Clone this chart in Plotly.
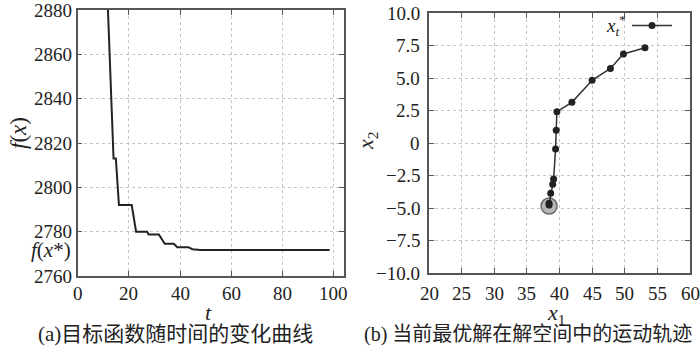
import plotly.graph_objects as go

# ---- data (a) objective value vs iteration (polyline vertices)
t_vals = [11.0, 12.0, 13.0, 14.0, 14.9, 16.1, 21.1, 22.8, 27.1, 27.7, 31.7, 33.2, 34.0,
          37.5, 38.9, 43.2, 44.8, 48.0, 98.4]
f_vals = [2905, 2874, 2845, 2813, 2813, 2792, 2792, 2780, 2780, 2778.7, 2778.7, 2775.6,
          2774.5, 2774.5, 2773.0, 2773.0, 2772.1, 2771.7, 2771.7]
f_best = 2771.7

# ---- data (b) trajectory of best solution
x1_vals = [53.1, 49.8, 47.8, 45.0, 41.9, 39.6, 39.5, 39.4, 39.1, 38.96, 38.65, 38.4, 38.4]
x2_vals = [7.33, 6.85, 5.74, 4.82, 3.13, 2.41, 0.98, -0.46, -2.77, -3.18, -3.87, -4.64, -4.77]
final_pt = ([38.4], [-4.85])

y1_ticks = [2760, 2780, 2800, 2820, 2840, 2860, 2880]
y1_ticktext = ["2760", "2780", "2800", "2820", "2840", "2860", "2880"]
x1_ticks = [0, 20, 40, 60, 80, 100]
x1_ticktext = ["0", "20", "40", "60", "80", "100"]
x2_ticks = [20, 25, 30, 35, 40, 45, 50, 55, 60]
x2_ticktext = ["20", "25", "30", "35", "40", "45", "50", "55", "60"]
y2_ticks = [10, 7.5, 5, 2.5, 0, -2.5, -5, -7.5, -10]
y2_ticktext = ["10.0", "7.5", "5.0", "2.5", "0", "\u22122.5", "\u22125.0", "\u22127.5", "\u221210.0"]

SERIF = "Liberation Serif, Times New Roman, serif"
CAPF = "Liberation Serif, Noto Sans CJK SC"
TICKSIZE = 19
W, H = 700, 352

fig = go.Figure()
fig.add_trace(go.Scatter(x=t_vals, y=f_vals, mode="lines",
                         line=dict(color="#222", width=2), xaxis="x", yaxis="y",
                         showlegend=False, cliponaxis=True))
fig.add_trace(go.Scatter(x=final_pt[0], y=final_pt[1], mode="markers",
                         marker=dict(size=16, color="rgba(160,160,160,0.75)",
                                     line=dict(color="#666", width=1.5)),
                         xaxis="x2", yaxis="y2", showlegend=False))
fig.add_trace(go.Scatter(x=x1_vals, y=x2_vals, mode="lines+markers",
                         line=dict(color="#333", width=1.5),
                         marker=dict(size=7, color="#222"),
                         xaxis="x2", yaxis="y2", showlegend=False))

axis_common = dict(showline=True, linecolor="#555", linewidth=1.5, mirror="ticks",
                   ticks="inside", ticklen=5, tickcolor="#555", tickwidth=1.2,
                   showgrid=True, gridcolor="#c4c4c4", griddash="dot", gridwidth=1,
                   zeroline=False, showticklabels=False, automargin=False)

def px_x(p):
    return p / W

def px_y(p):
    return 1 - p / H

fig.update_layout(
    width=W, height=H, margin=dict(l=0, r=0, t=0, b=0, autoexpand=False),
    paper_bgcolor="white", plot_bgcolor="white", showlegend=False,
    font=dict(family=SERIF, color="#222"),
    xaxis=dict(domain=[px_x(77.7), px_x(344)], range=[0, 104], tickvals=x1_ticks,
               anchor="y", **axis_common),
    yaxis=dict(domain=[px_y(276), px_y(10)], range=[2760, 2880],
               tickvals=y1_ticks, anchor="x", **axis_common),
    xaxis2=dict(domain=[px_x(429), px_x(690)], range=[20, 60],
                tickvals=x2_ticks, anchor="y2", **axis_common),
    yaxis2=dict(domain=[px_y(273), px_y(13)], range=[-10, 10], tickvals=y2_ticks,
                anchor="x2", **axis_common),
)

def A(text, x, y, size=22, family=SERIF, **kw):
    d = dict(text=text, x=px_x(x), y=px_y(y), xref="paper", yref="paper",
             xanchor="center", yanchor="middle", showarrow=False,
             font=dict(family=family, size=size, color="#222"))
    d.update(kw)
    return d

ann = [
    A("<i>f</i>(<i>x</i>)", 18, 133, size=23, textangle=-90),
    A("<i>t</i>", 208, 312),
    A("<i>x</i><sub>2</sub>", 367, 141, textangle=-90),
    A("<i>x</i><sub>1</sub>", 556, 314),
    A("(a)目标函数随时间的变化曲线", 175, 334, size=21, family=CAPF),
    A("(b) 当前最优解在解空间中的运动轨迹", 528, 334, size=20, family=CAPF),
    A("<i>x</i><sub><i>t</i></sub><sup>*</sup>", 616, 26, size=19),
    dict(text="<i>f</i>(<i>x</i>*)", x=px_x(73), y=f_best, xref="paper", yref="y",
         xanchor="right", yanchor="middle", showarrow=False,
         font=dict(family=SERIF, size=21, color="#222")),
]

tickfont = dict(family=SERIF, size=TICKSIZE, color="#222")
# tick labels placed through the axes' own scales
for v, s in zip(y1_ticks, y1_ticktext):
    ann.append(dict(text=s, x=px_x(74), y=v, xref="paper", yref="y", xanchor="right",
                    yanchor="middle", showarrow=False, font=tickfont))
for v, s in zip(x1_ticks, x1_ticktext):
    ann.append(dict(text=s, x=v, y=px_y(293), xref="x", yref="paper", xanchor="center",
                    yanchor="middle", showarrow=False, font=tickfont))
for v, s in zip(y2_ticks, y2_ticktext):
    ann.append(dict(text=s, x=px_x(422), y=v, xref="paper", yref="y2", xanchor="right",
                    yanchor="middle", showarrow=False, font=tickfont))
for v, s in zip(x2_ticks, x2_ticktext):
    ann.append(dict(text=s, x=v, y=px_y(293), xref="x2", yref="paper", xanchor="center",
                    yanchor="middle", showarrow=False, font=tickfont))
fig.update_layout(annotations=ann)

# legend symbol
fig.add_shape(type="line", xref="paper", yref="paper", x0=px_x(632), x1=px_x(672),
              y0=px_y(25.5), y1=px_y(25.5), line=dict(color="#333", width=1.5))
fig.add_shape(type="circle", xref="paper", yref="paper", x0=px_x(648.5), x1=px_x(655.5),
              y0=px_y(29), y1=px_y(22), line=dict(color="#222", width=0), fillcolor="#222")

fig.write_html("out.html", config={"displayModeBar": False},
               post_script="document.body.style.margin='0';document.body.style.overflow='hidden';")
